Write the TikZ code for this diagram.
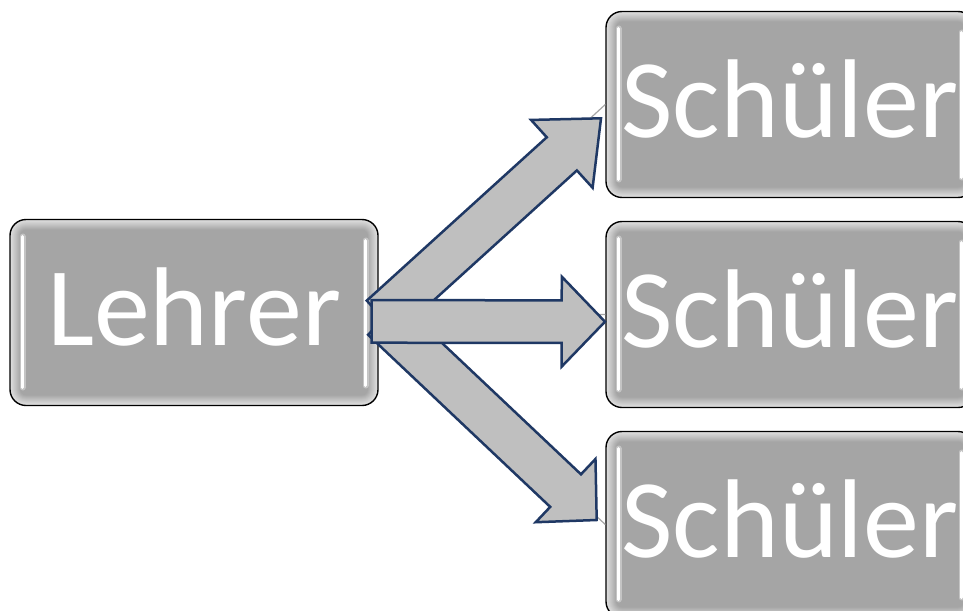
\documentclass[tikz,border=0pt]{standalone}
\usepackage{fontspec}
\setmainfont{Carlito}
\usetikzlibrary{calc}

\definecolor{boxfill}{HTML}{A5A5A5}
\definecolor{boxrim}{HTML}{E0E0E0}
\definecolor{arrowfill}{HTML}{BFBFBF}
\definecolor{arrowline}{HTML}{1F3864}
\definecolor{linkgray}{HTML}{A6A6A6}

% block arrow: tail, tip, shaft half width, head length, head half width
\newcommand\drawblockarrow[5]{%
  \path ($(#2)!#4!(#1)$) coordinate (neck);
  \draw[blockarrow]
    ($(#1)!#3!90:(#2)$) -- ($(neck)!#3!90:(#2)$) -- ($(neck)!#5!90:(#2)$)
    -- (#2)
    -- ($(neck)!#5!-90:(#2)$) -- ($(neck)!#3!-90:(#2)$) -- ($(#1)!#3!-90:(#2)$)
    -- cycle;
}

\tikzset{
  glossybox/.style={
    shape=rectangle, rounded corners=16pt,
    minimum width=368pt, minimum height=186pt, inner sep=0pt,
    draw=black, line width=1.4pt,
    text=white, font=\fontsize{112}{120}\selectfont,
    text height=66pt, text depth=0pt,
    path picture={
      % soft light rim fading into the grey face
      \foreach \k in {0,...,10}{
        \pgfmathtruncatemacro\pc{10*\k}
        \pgfmathsetmacro\rc{max(16-\k,3)}
        \fill[boxfill!\pc!boxrim, rounded corners=\rc pt]
          ($(path picture bounding box.south west)+(\k pt,\k pt)$)
          rectangle ($(path picture bounding box.north east)-(\k pt,\k pt)$);
      }
      % vertical highlights
      \draw[white, opacity=0.35, line width=6pt, line cap=round, sharp corners]
        ($(path picture bounding box.north west)+(12.5pt,-17pt)$)
        -- ($(path picture bounding box.south west)+(12.5pt,18pt)$);
      \draw[white, line width=3pt, line cap=round, sharp corners]
        ($(path picture bounding box.north west)+(12.5pt,-17pt)$)
        -- ($(path picture bounding box.south west)+(12.5pt,18pt)$);
      \draw[white, opacity=0.35, line width=6pt, line cap=round, sharp corners]
        ($(path picture bounding box.north east)+(-12.5pt,-21pt)$)
        -- ($(path picture bounding box.south east)+(-12.5pt,20pt)$);
      \draw[white, line width=3pt, line cap=round, sharp corners]
        ($(path picture bounding box.north east)+(-12.5pt,-21pt)$)
        -- ($(path picture bounding box.south east)+(-12.5pt,20pt)$);
    }
  },
  link/.style={draw=linkgray, line width=1.2pt},
  blockarrow/.style={fill=arrowfill, draw=arrowline, line width=2.5pt, line join=miter}
}

\begin{document}
\begin{tikzpicture}[x=1pt, y=-1pt]
  \useasboundingbox (0,0) rectangle (963,610);
  \fill[white] (0,0) rectangle (963,610);
  \clip (0,0) rectangle (963,610);

  % boxes
  \node[glossybox] (lehrer) at (194,312.5) {Lehrer};
  \node[glossybox] (s1) at (790,104.5) {Schüler};
  \node[glossybox] (s2) at (790,314.5) {Schüler};
  \node[glossybox] (s3) at (790,524.5) {Schüler};

  % plain links beneath the arrows
  \draw[link] (lehrer.east) -- (s1.west);
  \draw[link] (lehrer.east) -- (s2.west);
  \draw[link] (lehrer.east) -- (s3.west);

  % arrow tails and tips
  \coordinate (t0) at (381.8,317.2);
  \coordinate (t1) at (601,118.3);
  \coordinate (b0) at (383.5,318.5);
  \coordinate (b1) at (596.7,520);
  \coordinate (m0) at (371.7,321.4);
  \coordinate (m1) at (605,321.7);

  \drawblockarrow{t0}{t1}{22.4pt}{52.9pt}{45.8pt}
  \drawblockarrow{b0}{b1}{22.4pt}{42.8pt}{43.5pt}
  \drawblockarrow{m0}{m1}{21.3pt}{43.3pt}{45pt}
\end{tikzpicture}
\end{document}
